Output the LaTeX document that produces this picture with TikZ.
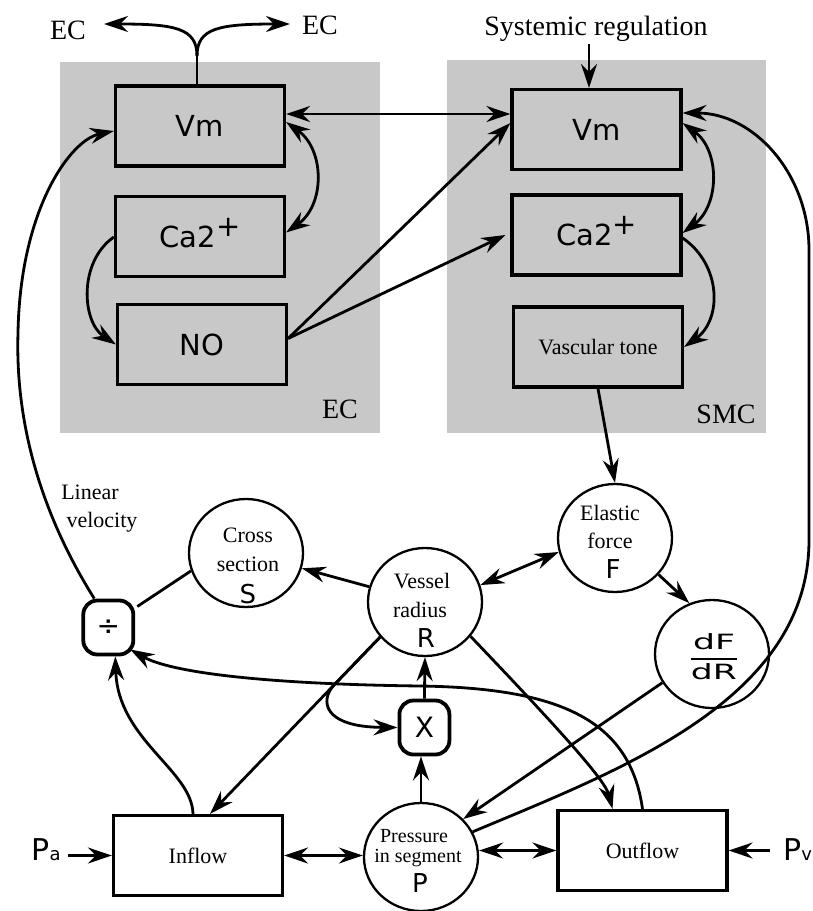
\documentclass[tikz,border=0pt]{standalone}
\usepackage{fontspec}
\usepackage{graphicx}
\setmainfont{Liberation Serif}
\newfontfamily\sanf{DejaVu Sans}
\usetikzlibrary{arrows.meta,shapes.geometric}
\definecolor{cellgray}{RGB}{200,200,200}
\newcommand\fsz[1]{\fontsize{#1}{#1}\selectfont}
\newcommand\plusup{\smash{\raisebox{11pt}{+}}}
\begin{document}
\begin{tikzpicture}[x=1pt,y=-1pt,
 con/.style={line width=2.8pt},
 arr/.style={con,-{Stealth[length=24pt,width=16pt,inset=8pt]}},
 arrb/.style={con,{Stealth[length=24pt,width=16pt,inset=8pt]}-{Stealth[length=24pt,width=16pt,inset=8pt]}},
 cellbox/.style={draw,line width=3.2pt,minimum width=169pt,minimum height=80pt,inner sep=0pt,font=\sanf\fsz{29}},
 flowbox/.style={draw,line width=3.2pt,minimum width=169pt,minimum height=80pt,inner sep=0pt,font=\fsz{22}},
 circ/.style={draw,ellipse,line width=2.3pt,minimum width=114pt,minimum height=108pt,inner sep=0pt},
 opbox/.style={draw,rounded corners=14pt,line width=3.8pt,minimum width=50pt,minimum height=54pt,inner sep=0pt,font=\sanf\fsz{28}},
 lbl/.style={inner sep=0pt,font=\fsz{28}},
 ctxt/.style={inner sep=0pt,font=\fsz{22}},
 sym/.style={inner sep=0pt,font=\sanf\fsz{26}},
]
\useasboundingbox (0,0) rectangle (812,911);
% cell backgrounds
\fill[cellgray] (60,62) rectangle (380,433);
\fill[cellgray] (447,60) rectangle (766,433);

% cell boxes
\node[cellbox] (ecvm) at (200,126) {Vm};
\node[cellbox] (ecca) at (200,236.5) {Ca2\plusup};
\node[cellbox] (ecno) at (202,344.5) {NO};
\node[cellbox] (smvm) at (596.5,129.5) {Vm};
\node[cellbox] (smca) at (596.5,235) {Ca2\plusup};
\node[cellbox,font=\fsz{22}] (smvt) at (598,347) {Vascular tone};

% labels
\node[lbl,anchor=base] (ectl) at (68,39) {EC};
\node[lbl,anchor=base] (ectr) at (320,34) {EC};
\node[lbl,anchor=base] (ecbot) at (340,418) {EC};
\node[lbl,anchor=base] (smcbot) at (726,423) {SMC};
\node[lbl,anchor=base] (sysreg) at (596,35) {Systemic regulation};
\node[ctxt,anchor=base] (lin1) at (90,499) {Linear};
\node[ctxt,anchor=base] (lin2) at (102,527) {velocity};

% circles
\node[circ] (S) at (246,553) {};
\node[ctxt,anchor=base] (S1) at (248,542) {Cross};
\node[ctxt,anchor=base] (S2) at (248,571) {section};
\node[sym,anchor=base] (S3) at (248,603) {S};

\node[circ] (R) at (425,602) {};
\node[ctxt,anchor=base] (R1) at (422,588) {Vessel};
\node[ctxt,anchor=base] (R2) at (420,617) {radius};
\node[sym,anchor=base] (R3) at (426,647) {R};

\node[circ] (F) at (615,538) {};
\node[ctxt,anchor=base] (F1) at (610,520) {Elastic};
\node[ctxt,anchor=base] (F2) at (610,548) {force};
\node[sym,anchor=base] (F3) at (613,578) {F};

\node[circ] (dfc) at (712,654) {};
\node[inner sep=0pt] (dfdr) at (714,657) {\scalebox{1.65}[1]{\sanf\fsz{21}$\displaystyle{\hbox{dF}\above 1.4pt\hbox{dR}}$}};

\node[circ] (P) at (421,857) {};
\node[ctxt,anchor=base,font=\fsz{20}] (P1) at (414,842) {Pressure};
\node[ctxt,anchor=base,font=\fsz{20}] (P2) at (418,862) {in segment};
\node[sym,anchor=base] (P3) at (420,892) {P};

% operators
\node[opbox] (div) at (108.3,627.5) {÷};
\node[opbox] (X) at (424.4,727.5) {X};

% flows
\node[flowbox] (inflow) at (198,855.5) {Inflow};
\node[flowbox] (outflow) at (642.5,850.5) {Outflow};
\node[inner sep=0pt,anchor=base] (pa) at (46,860) {\sanf\fsz{30}P\fsz{18}a};
\node[inner sep=0pt,anchor=base west] (pv) at (783,860) {\sanf\fsz{30}P\fsz{18}v};

% ---- connectors ----
\coordinate (fork) at (197,56);
\coordinate (ecl) at (104,24);
\coordinate (ecr) at (290,24);
\draw[con] (ecvm.north -| fork) -- (fork);
\draw[arr] (fork) .. controls (197,28) and (175,24) .. (ecl);
\draw[arr] (fork) .. controls (197,28) and (219,24) .. (ecr);

\coordinate (sysin) at (589,44);
\draw[arr] (sysin) -- (smvm.north -| sysin);

\draw[arrb] (ecvm.east |- 0,114) -- (smvm.west |- 0,114);
\coordinate (nost) at ([yshift=6pt]ecno.east);
\draw[arr] (nost) -- ([yshift=6.5pt]smvm.west);
\draw[arr] (nost) -- ([xshift=-5pt]smca.west);

\draw[arrb] ([yshift=4pt]ecvm.east) .. controls (325,150) and (325,205) .. ([yshift=4pt]ecca.east);
\draw[arr] ([yshift=-0.5pt]ecca.west) .. controls (78,262) and (82,322) .. (ecno.west);
\draw[arrb] ([yshift=6.5pt]smvm.east) .. controls (720,150) and (720,205) .. ([yshift=2pt]smca.east);
\draw[arr] ([yshift=-3pt]smca.east) .. controls (722,265) and (722,320) .. (smvt.east);

\draw[arr] (P.26) .. controls (620,770) and (809,700) .. (809,540) -- (809,250) .. controls (809,174) and (754,113) .. ([yshift=16.5pt]smvm.east);
\draw[arr] (smvt.south) -- (F.north);

\draw[arr] ([xshift=-14pt]div.north) .. controls (45,520) and (15,430) .. (18,333) .. controls (20,210) and (70,140) .. ([yshift=-5pt]ecvm.west);
\draw[arr] ([xshift=-5pt]inflow.north) .. controls (192,770) and (118,740) .. ([xshift=7pt]div.south);
\draw[arr] (outflow.north) .. controls (630,720) and (560,688) .. (420,686) .. controls (260,684) and (170,672) .. ([xshift=22pt,yshift=-22pt]div.center);
\draw[con] (S.198) -- ([xshift=29pt,yshift=21pt]div.center);

\draw[arr] (R) -- (S);
\draw[arrb] (R.17) -- (F.194);
\draw[arr] (F.-40) -- (dfc.114);
\draw[arr] (dfc.210) -- (P.42);
\draw[arr] (R.218) -- ([xshift=12pt]inflow.north);
\draw[arr] (R.218) -- (334,685) .. controls (320,700) and (322,727) .. (X.west);
\draw[arr] (P.north) -- (P.north |- X.south);
\draw[arr] (X.north) -- (R.south);
\draw[arr] (R.-37) .. controls (560,730) and (605,780) .. ([xshift=-30pt]outflow.north);

\draw[arrb] (inflow.east) -- (inflow.east -| P.west);
\draw[arrb] (outflow.west -| P.east) -- (outflow.west);
\draw[arr] ([xshift=7pt]pa.east |- inflow.west) -- (inflow.west);
\draw[arr] ([xshift=-13pt]pv.west |- outflow.east) -- (outflow.east);
\end{tikzpicture}
\end{document}
